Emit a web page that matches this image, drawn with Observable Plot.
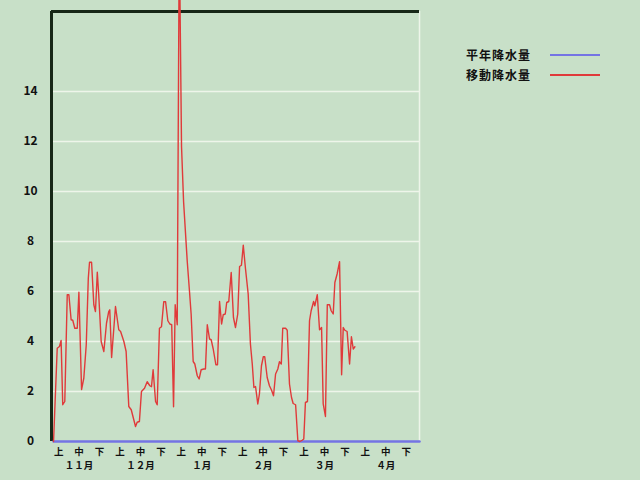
<!DOCTYPE html>
<html><head><meta charset="utf-8">
<script src="https://cdn.jsdelivr.net/npm/d3@7"></script>
<script src="https://cdn.jsdelivr.net/npm/@observablehq/plot@0.6"></script>
<style>
body{margin:0;background:#c8e0c8;}
#wrap{position:relative;width:640px;height:480px;background:#c8e0c8;}
.lg{position:absolute;font:bold 12px "Noto Sans CJK JP";letter-spacing:1px;color:#111;line-height:14px;white-space:nowrap;}
.ln{position:absolute;height:2px;width:50px;}
</style></head><body><div id="wrap"></div>
<script>
const months = ["１１月","１２月","１月","２月","３月","４月"];
const dekads = ["上","中","下"];
const yTicks = [0,2,4,6,8,10,12,14];
const seriesNames = ["平年降水量","移動降水量"];
const seriesColors = ["#7474e4","#e03a3a"];

// day index (10 per dekad, 30 per month, from 1 Nov)
const moveDay = [1,2.8,3.9,4.7,5.5,6.5,7.7,8.5,9.6,10.4,11.4,12.6,13.4,14.7,15.8,17.0,18.0,18.6,19.6,20.7,21.5,22.4,23.1,24.3,25.6,26.9,28.0,28.5,29.4,31.3,32.9,33.8,35.4,36.5,37.8,39.0,41.1,41.9,43.0,44.0,45.5,46.8,48.1,48.9,49.7,50.9,51.7,52.8,53.8,54.9,55.8,56.9,57.9,58.8,59.7,60.5,61.5,62.5,63.6,64.6,66.4,67.5,68.3,69.3,70.1,71.3,72.2,73.2,74.5,75.3,76.2,77.3,78.1,79.1,80.4,81.2,82.2,83.2,84.0,85.0,85.7,86.7,87.9,89.0,90.0,91.1,92.0,92.9,93.8,94.9,96.2,97.3,98.2,99.0,99.8,100.9,101.7,102.7,103.6,104.3,105.5,106.6,107.6,108.6,109.6,110.7,111.5,112.4,113.1,114.5,115.3,116.4,117.4,118.2,119.4,120.5,121.5,122.6,123.4,124.2,125.2,126.2,127.0,128.2,128.8,130.0,131.1,132.1,132.9,134.0,134.9,136.0,136.8,137.8,138.6,139.7,140.9,141.9,142.7,143.5,144.6,145.8,146.7,147.6,148.4];
const moveVal = [0,3.73,3.8,4.04,1.47,1.6,5.87,5.87,4.87,4.85,4.53,4.53,5.97,2.08,2.53,3.87,6.53,7.17,7.17,5.47,5.2,6.77,5.87,4.0,3.6,4.73,5.2,5.27,3.36,5.4,4.47,4.4,4.0,3.6,1.4,1.27,0.6,0.77,0.8,2.0,2.13,2.39,2.23,2.19,2.87,1.6,1.47,4.53,4.59,5.59,5.59,4.83,4.7,4.67,1.39,5.47,4.67,20.4,11.8,9.6,7.2,6.0,5.1,3.2,3.1,2.63,2.5,2.87,2.9,2.9,4.67,4.1,4.07,3.7,3.07,3.07,5.6,4.7,5.07,5.1,5.56,5.6,6.76,4.96,4.56,5.1,7.0,7.05,7.85,6.9,5.9,3.9,3.1,2.16,2.2,1.5,1.9,3.03,3.39,3.39,2.56,2.23,2.06,1.83,2.7,2.9,3.19,3.1,4.53,4.53,4.45,2.3,1.76,1.52,1.47,0.03,0,0.05,0.1,1.56,1.6,4.83,5.23,5.6,5.43,5.87,4.47,4.56,1.5,1.0,5.47,5.47,5.23,5.1,6.36,6.7,7.19,2.67,4.56,4.45,4.4,3.1,4.19,3.7,3.79];
const normDay = [1,180];
const normVal = [0,0];

const moveData = moveDay.map((d,i)=>({day:d, value:moveVal[i]}));
const normData = normDay.map((d,i)=>({day:d, value:normVal[i]}));
const tickDays = d3.range(18).map(i=>10*i+3.5);
const monthDays = d3.range(6).map(i=>30*i+13.5);
const dekadLabel = d => dekads[tickDays.indexOf(d)%3];
const monthLabel = d => months[monthDays.indexOf(d)];

const chart = Plot.plot({
  width: 640, height: 480,
  marginLeft: 51, marginRight: 221, marginTop: 11, marginBottom: 39,
  style: {background: "transparent", fontFamily: "'Noto Sans CJK JP', sans-serif"},
  x: {domain: [0,180], axis: null, label: null},
  y: {domain: [0,17.2], axis: null, label: null},
  marks: [
    Plot.gridY(yTicks.filter(d=>d>0), {stroke:"#eef5ea", strokeOpacity:1, strokeWidth:1.5}),
    Plot.ruleX([180], {stroke:"#eef5ea", strokeWidth:1.5}),
    Plot.axisY(yTicks, {label:null, tickSize:0, tickPadding:21, textAnchor:"middle", fontSize:12, fontWeight:"bold", fill:"#111", tickFormat: d=>String(d)}),
    Plot.axisX(tickDays, {label:null, tickSize:0, tickPadding:7, tickFormat: dekadLabel, fontSize:9.5, fontWeight:"bold", fill:"#111"}),
    Plot.axisX(monthDays, {label:null, tickSize:0, tickPadding:21, tickFormat: monthLabel, fontSize:9.5, fontWeight:"bold", fill:"#111"}),
    Plot.ruleX([0], {stroke:"#172717", strokeWidth:3}),
    Plot.ruleY([17.2], {stroke:"#172717", strokeWidth:3}),
    Plot.line(normData, {x:"day", y:"value", stroke:seriesColors[0], strokeWidth:2.5}),
    Plot.line(moveData, {x:"day", y:"value", stroke:seriesColors[1], strokeWidth:1.4})
  ]
});
const wrap = document.getElementById("wrap");
wrap.appendChild(chart);
seriesNames.forEach((name,i)=>{
  const t = document.createElement("div");
  t.className = "lg"; t.textContent = name;
  t.style.left = "466px"; t.style.top = (48+20*i)+"px";
  wrap.appendChild(t);
  const l = document.createElement("div");
  l.className = "ln"; l.style.background = seriesColors[i];
  l.style.left = "550px"; l.style.top = (54+20*i)+"px";
  wrap.appendChild(l);
});
</script></body></html>
